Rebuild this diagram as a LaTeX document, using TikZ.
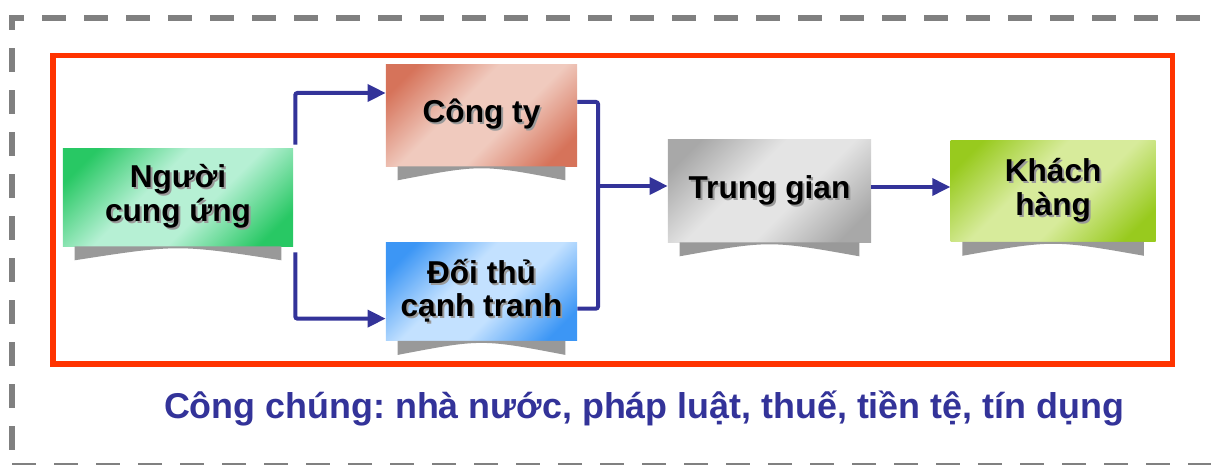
\documentclass[tikz,border=0pt]{standalone}
\usepackage{fontspec}
\setmainfont{Liberation Sans}
\usetikzlibrary{positioning,calc,arrows.meta}

\definecolor{xanh}{RGB}{51,51,153}
\definecolor{do}{RGB}{255,51,0}
\definecolor{xam}{RGB}{128,128,128}
\definecolor{bonggray}{RGB}{153,153,153}
\definecolor{nguoitoi}{RGB}{40,200,100}
\definecolor{nguoisang}{RGB}{182,240,212}
\definecolor{congtytoi}{RGB}{214,115,90}
\definecolor{congtysang}{RGB}{240,202,190}
\definecolor{doithutoi}{RGB}{60,150,245}
\definecolor{doithusang}{RGB}{195,225,255}
\definecolor{trunggiantoi}{RGB}{168,168,168}
\definecolor{trunggiansang}{RGB}{228,228,228}
\definecolor{khachtoi}{RGB}{152,202,30}
\definecolor{khachsang}{RGB}{215,235,155}
\colorlet{toi}{gray}
\colorlet{sang}{white}

\pgfdeclareverticalshading[toi,sang]{khoibong}{100bp}{color(0bp)=(toi); color(22bp)=(toi);
	color(42bp)=(sang); color(58bp)=(sang); color(78bp)=(toi); color(100bp)=(toi)}

\newcommand\bong[1]{\rlap{\hspace{1.4pt}\raisebox{-1.4pt}{\textcolor{black!40}{#1}}}#1}
\newcommand\bongkhoi[1]{\fill[bonggray] ([xshift=0.3cm]#1.south west) -- ++(0cm,-0.35cm)
	.. controls ($(#1.south)+(0cm,0.05cm)$) .. ([xshift=-0.3cm,yshift=-0.35cm]#1.south east)
	-- ([xshift=-0.3cm]#1.south east) -- cycle;}

\begin{document}
\frenchspacing
\begin{tikzpicture}[
	x=0.025cm, y=-0.025cm,
	node distance=1cm,
	font=\fontsize{22.5}{24}\selectfont\bfseries,
	khoi/.style={rectangle, inner sep=0pt, align=center, shading=khoibong, shading angle=45},
	tomau/.code={\colorlet{toi}{#1toi}\colorlet{sang}{#1sang}},
	muiten/.style={draw=xanh, line width=2.85pt, rounded corners=1.5pt, -{Triangle[length=4.5mm,width=4.2mm]}},
	noi/.style={draw=xanh, line width=2.85pt, rounded corners=1.5pt},
	khung/.style={draw=xam, line width=4.27pt, dash pattern=on 17.07pt off 12.8pt, dash phase=18.49pt}
	]
	\useasboundingbox (0,0) rectangle (1211,465);
	
	\draw[khung] (12,466) -- (12,18) -- (1260,18);
	\draw[khung, dash phase=0pt] (12,466) -- (1260,466);
	\draw[do, line width=3.6pt] (53,55.5) rectangle (1172.5,364);
	
	\node[khoi, tomau=nguoi] (nguoi) [minimum width=5.75cm, minimum height=2.425cm] at (178,197.5) {\bong{Người}\\\bong{cung ứng}};
	\node[khoi, tomau=congty] (congty) [minimum width=4.775cm, minimum height=2.525cm] at (481.5,115.5) {\bong{Công ty}};
	\node[khoi, tomau=doithu] (doithu) [below=1.9cm of congty, minimum width=4.775cm, minimum height=2.45cm] {\bong{Đối thủ}\\\bong{cạnh tranh}};
	\node[khoi, tomau=trunggian] (trunggian) [minimum width=5.075cm, minimum height=2.55cm] at (769.5,191) {\bong{Trung gian}};
	\node[khoi, tomau=khach] (khachhang) [right=1.975cm of trunggian, minimum width=5.125cm, minimum height=2.525cm] {\bong{Khách}\\\bong{hàng}};
	
	\bongkhoi{nguoi}
	\bongkhoi{congty}
	\bongkhoi{doithu}
	\bongkhoi{trunggian}
	\bongkhoi{khachhang}
	
	\coordinate (hop) at (598,186);
	\draw[muiten] ([xshift=0.05cm,yshift=0.1cm]nguoi.north east) |- ([yshift=0.5625cm]congty.west);
	\draw[muiten] ([xshift=0.05cm,yshift=-0.15cm]nguoi.south east) |- ([yshift=-0.675cm]doithu.west);
	\draw[noi] ([yshift=0.3375cm]congty.east) -| (hop);
	\draw[noi] ([yshift=-0.425cm]doithu.east) -| (hop);
	\draw[muiten] (hop) -- (hop -| trunggian.west);
	\draw[muiten] ([yshift=0.1cm]trunggian.east) -- ([yshift=0.1cm]khachhang.west);
	
	\node[text=xanh, font=\fontsize{25.5}{28}\selectfont\bfseries] (congchung) at (644,409) {Công chúng: nhà nước, pháp luật, thuế, tiền tệ, tín dụng};
\end{tikzpicture}
\end{document}
